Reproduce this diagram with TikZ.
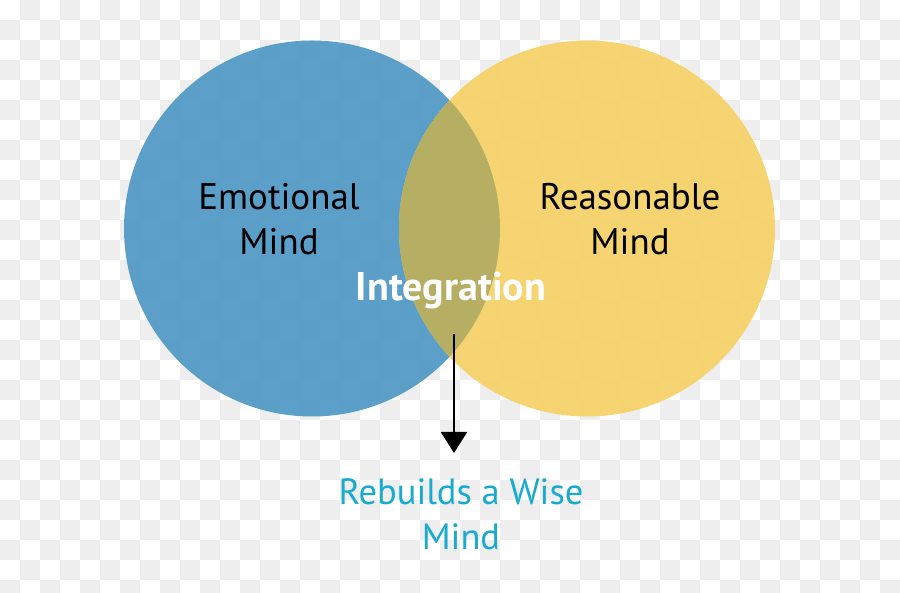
\documentclass[tikz,border=0pt]{standalone}
\usepackage{fontspec}
\setmainfont{PT Sans}
\usetikzlibrary{arrows.meta}
\definecolor{chk}{HTML}{EEEEEE}
\definecolor{emoblue}{HTML}{529BC6}
\definecolor{reayellow}{HTML}{F5D269}
\definecolor{olivemix}{HTML}{B4AD62}
\definecolor{wiseteal}{HTML}{18AACF}
\tikzset{
  venn/.style={circle, minimum size=376pt, inner sep=0pt, draw=none, fill opacity=0.94},
  lbl/.style={align=center, font=\fontsize{37}{45}\selectfont, text=black},
}
\begin{document}
\begin{tikzpicture}[x=1pt,y=-1pt]
\useasboundingbox (0,0) rectangle (900,593);
\fill[white] (0,0) rectangle (900,593);
\foreach \i in {0,40,...,880}{
  \foreach \j in {20,60,...,580}{
    \fill[chk] (\i,\j) rectangle ++(20,20);
  }
}
\foreach \i in {20,60,...,860}{
  \foreach \j in {0,40,...,560}{
    \fill[chk] (\i,\j) rectangle ++(20,20);
  }
}
\node[venn, fill=emoblue] (emo) at (312,228.5) {};
\node[venn, fill=reayellow] (rea) at (587,228.5) {};
\begin{scope}
  \clip (312,228.5) circle (188);
  \fill[olivemix, fill opacity=0.95] (587,228.5) circle (188);
\end{scope}
\node[lbl] (emotxt) at (279,219) {Emotional\\Mind};
\node[lbl] (reatxt) at (630,219) {Reasonable\\Mind};
\node[font=\fontsize{40}{44}\selectfont\bfseries, text=white] (integ) at (451,291) {Integration};
\coordinate (astart) at (454,334);
\coordinate (aend) at (454,453);
\draw[line width=2pt, -{Triangle[width=26pt,length=21pt]}] (astart) -- (aend);
\node[align=center, font=\fontsize{36.5}{45}\selectfont, text=wiseteal] (wise) at (461,514) {Rebuilds a Wise\\Mind};
\end{tikzpicture}
\end{document}
